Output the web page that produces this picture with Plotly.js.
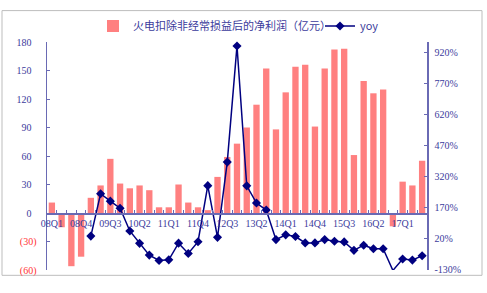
<!DOCTYPE html>
<html>
<head>
<meta charset="utf-8">
<script src="https://cdn.plot.ly/plotly-3.0.1.min.js"></script>
<style>html,body{margin:0;padding:0;background:#fff;}#chart{width:487px;height:293px;}</style>
</head>
<body>
<div id="chart"></div>
<script>
// Categories (quarters)
const categories = ["08Q1","08Q2","08Q3","08Q4","09Q1","09Q2","09Q3","09Q4","10Q1","10Q2","10Q3","10Q4",
  "11Q1","11Q2","11Q3","11Q4","12Q1","12Q2","12Q3","12Q4","13Q1","13Q2","13Q3","13Q4",
  "14Q1","14Q2","14Q3","14Q4","15Q1","15Q2","15Q3","15Q4","16Q1","16Q2","16Q3","16Q4",
  "17Q1","17Q2","17Q3"];
// 火电扣除非经常损益后的净利润(亿元)
const profit = [11,-15,-56,-46,16,29,57,31,26,29,24,6,
  6,30,11,6,3,38,59,73,90,114,152,88,
  127,154,156,91,152,172,173,61,139,126,130,-14,
  33,29,55];
// yoy (%)
const yoy = [null,null,null,null,31,236,200,166,56,-4,-61,-87,
  -84,-3,-53,4,275,25,389,951,274,191,157,14,
  37,29,-2,-2,14,6,3,-38,-13,-30,-30,-135,
  -80,-85,-64];
// Axis ticks
const leftTicks = [-60,-30,0,30,60,90,120,150,180];
const leftTickText = ['<span style="color:#ff3333">(60)</span>','<span style="color:#ff3333">(30)</span>',
  '0\u00a0\u00a0','30\u00a0\u00a0','60\u00a0\u00a0','90\u00a0\u00a0','120\u00a0\u00a0','150\u00a0\u00a0','180\u00a0\u00a0'];
const rightTicks = [-130,20,170,320,470,620,770,920];
const rightTickText = ['-130%','20%','170%','320%','470%','620%','770%','920%'];
const labelCats = ["08Q1","08Q4","09Q3","10Q2","11Q1","11Q4","12Q3","13Q2","14Q1","14Q4","15Q3","16Q2","17Q1"];

const axisColor = '#6a6ab4';
const labelColor = '#3b3b9c';
const serif = '"Liberation Serif", "DejaVu Serif", serif';
const legendFont = {family: '"Noto Sans CJK SC", sans-serif', size: 11, color: labelColor};

const traces = [
  {
    type: 'bar', x: categories, y: profit, name: '火电扣除非经常损益后的净利润（亿元）',
    marker: {color: '#ff8080'}, yaxis: 'y', xaxis: 'x', legend: 'legend'
  },
  {
    type: 'scatter', mode: 'lines+markers', x: categories, y: yoy, name: 'yoy',
    yaxis: 'y2', xaxis: 'x', cliponaxis: false, legend: 'legend2',
    line: {color: '#000080', width: 1.5},
    marker: {symbol: 'diamond', size: 7, color: '#000080'}
  }
];

const layout = {
  width: 487, height: 293,
  margin: {l: 47, r: 60, t: 34.5, b: 22.5, pad: 0},
  paper_bgcolor: '#fff', plot_bgcolor: 'rgba(0,0,0,0)',
  bargap: 0.35,
  showlegend: true,
  legend: {
    orientation: 'h', x: (93 - 47) / 380, xanchor: 'left', y: 1.07, yanchor: 'middle',
    font: legendFont, itemwidth: 30, bgcolor: 'rgba(0,0,0,0)'
  },
  legend2: {
    orientation: 'h', x: (320 - 47) / 380, xanchor: 'left', y: 1.07, yanchor: 'middle',
    font: legendFont, itemwidth: 30, bgcolor: 'rgba(0,0,0,0)'
  },
  xaxis: {
    type: 'category', range: [-0.5, categories.length - 0.5],
    anchor: 'free', position: 0.25,
    showline: true, linecolor: axisColor, linewidth: 1.5,
    ticks: 'inside', ticklen: 3, tickcolor: axisColor, tickson: 'boundaries',
    tickvals: categories, ticktext: categories.map(c => labelCats.includes(c) ? c : ''),
    tickangle: 0,
    tickfont: {family: serif, size: 10, color: labelColor},
    showgrid: false, zeroline: false, fixedrange: true
  },
  yaxis: {
    range: [-60, 180], tickvals: leftTicks, ticktext: leftTickText,
    showline: true, linecolor: axisColor, linewidth: 1.5,
    ticks: 'inside', ticklen: 3, tickcolor: axisColor,
    tickfont: {family: serif, size: 10, color: labelColor},
    ticklabelstandoff: 7,
    showgrid: false, zeroline: false
  },
  yaxis2: {
    overlaying: 'y', side: 'right', range: [-133, 970],
    tickvals: rightTicks, ticktext: rightTickText,
    showline: true, linecolor: axisColor, linewidth: 1.5,
    ticks: 'inside', ticklen: 3, tickcolor: axisColor,
    tickfont: {family: serif, size: 10, color: labelColor},
    ticklabelstandoff: 4,
    showgrid: false, zeroline: false
  },
  shapes: [{
    type: 'rect', xref: 'paper', yref: 'paper',
    x0: (2 - 47) / 380, x1: (482 - 47) / 380,
    y0: (270.5 - 276) / 236, y1: (270.5 - 2) / 236,
    line: {color: '#bdbdbd', width: 1}, layer: 'below'
  }]
};

Plotly.newPlot('chart', traces, layout, {staticPlot: true, displayModeBar: false});
</script>
</body>
</html>
